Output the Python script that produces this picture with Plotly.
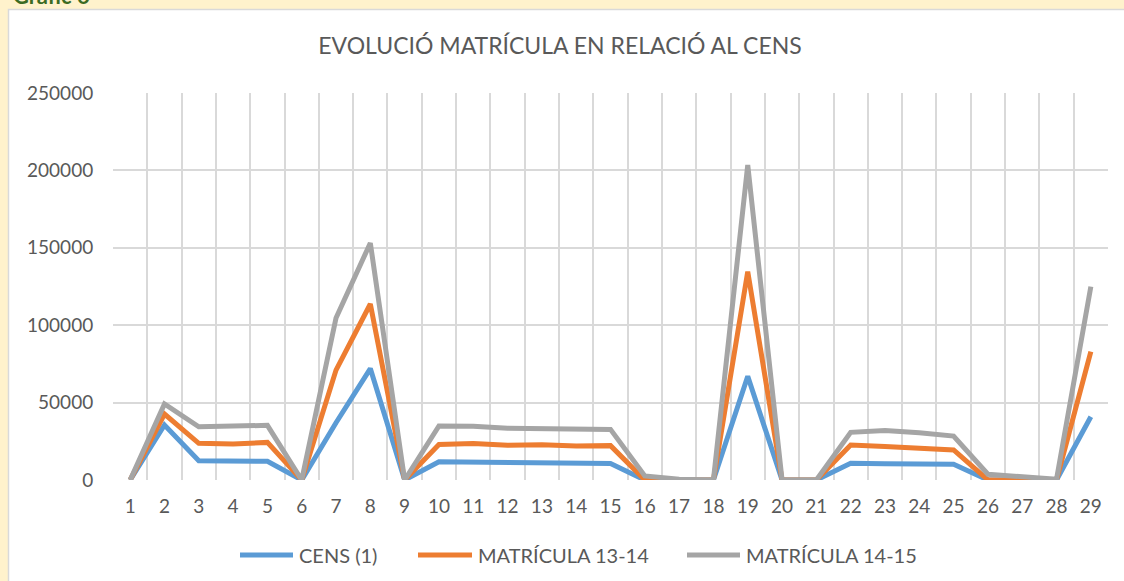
import plotly.graph_objects as go

categories = list(range(1, 30))
cens = [0, 35500, 12500, 12200, 12100, 0, 37000, 72000, 0, 11800, 11600, 11300, 11100, 10900, 10600,
        0, 0, 0, 67000, 0, 0, 10800, 10500, 10300, 10200, 0, 0, 0, 40900]
mat_13_14 = [0, 42600, 23700, 23300, 24300, 0, 71000, 113700, 0, 23000, 23600, 22500, 22700, 22000, 22200,
             0, 0, 0, 134600, 0, 0, 22600, 21600, 20500, 19400, 0, 0, 0, 82900]
mat_14_15 = [0, 49100, 34400, 34500, 35300, 0, 104700, 153100, 0, 34900, 34800, 33400, 33200, 32600, 32700,
             2600, 500, 0, 203500, 0, 0, 30800, 31900, 30500, 28400, 3700, 1800, 500, 124900]
series_names = ["CENS (1)", "MATRÍCULA 13-14", "MATRÍCULA 14-15"]
colors = ["#5B9BD5", "#ED7D31", "#A5A5A5"]
y_ticks = [0, 50000, 100000, 150000, 200000, 250000]

FONT = "Lato"
TXT = "#595959"

fig = go.Figure()
for name, vals, col in zip(series_names, [cens, mat_13_14, mat_14_15], colors):
    fig.add_trace(go.Scatter(x=categories, y=vals, name=name, mode="lines",
                             line=dict(color=col, width=5), hoverinfo="x+y+name",
                             showlegend=False))

W, H = 1124, 581
L, R, T, B = 113, 16, 93, 101
pw, ph = W - L - R, H - T - B

def px(xp):
    return (xp - L) / pw

def py(yp):
    return (H - B - yp) / ph

# manual legend (Excel-like long line samples)
legend_line_x = [(240, 293), (418, 472), (687, 740)]
legend_y = 555
shapes = [
    dict(type="rect", xref="paper", yref="paper", x0=px(8.5), x1=px(W + 5), y0=py(9.5), y1=py(H + 5),
         fillcolor="white", line=dict(color="#D9D9D9", width=1.5), layer="below"),
]
annotations = [
    dict(text="<b>Gràfic 6</b>", xref="paper", yref="paper", x=px(11), y=py(11),
         xanchor="left", yanchor="bottom", showarrow=False,
         font=dict(size=22, color="#3B6B23", family=FONT)),
]
for (x0, x1), name, col in zip(legend_line_x, series_names, colors):
    shapes.append(dict(type="line", xref="paper", yref="paper", x0=px(x0), x1=px(x1),
                       y0=py(legend_y), y1=py(legend_y), line=dict(color=col, width=5)))
    annotations.append(dict(text=name, xref="paper", yref="paper", x=px(x1 + 4), y=py(legend_y),
                            xanchor="left", yanchor="middle", showarrow=False,
                            font=dict(size=20, color=TXT, family=FONT)))

fig.update_layout(
    width=W, height=H,
    margin=dict(l=L, r=R, t=T, b=B),
    paper_bgcolor="#FFF2CC",
    plot_bgcolor="white",
    font=dict(family=FONT, color=TXT, size=19),
    title=dict(text="EVOLUCIÓ MATRÍCULA EN RELACIÓ AL CENS", x=px(560), xref="paper", xanchor="center",
               y=1 - 46 / H, yanchor="middle", font=dict(size=23, color=TXT, family=FONT)),
    showlegend=False,
    xaxis=dict(range=[0.5, 29.5], tickmode="array", tickvals=categories,
               ticktext=[str(c) for c in categories], showgrid=False, zeroline=False,
               showline=False, ticks="outside", ticklen=9, tickcolor="rgba(0,0,0,0)",
               tickfont=dict(size=19, color=TXT),
               minor=dict(tickmode="linear", tick0=0.5, dtick=1, showgrid=True,
                          gridcolor="#D9D9D9", gridwidth=1.8, ticks=""),
               fixedrange=True),
    yaxis=dict(range=[0, 250000], tickmode="array", tickvals=y_ticks,
               ticktext=[str(v) for v in y_ticks], showgrid=True, gridcolor="#D9D9D9",
               gridwidth=1.8, zeroline=False, showline=False, ticks="outside",
               ticklen=15, tickcolor="rgba(0,0,0,0)", tickfont=dict(size=19, color=TXT),
               fixedrange=True),
    shapes=shapes,
    annotations=annotations,
)

fig.write_html("out.html", config={"displayModeBar": False},
               post_script="document.body.style.margin='0';document.body.style.overflow='hidden';")
